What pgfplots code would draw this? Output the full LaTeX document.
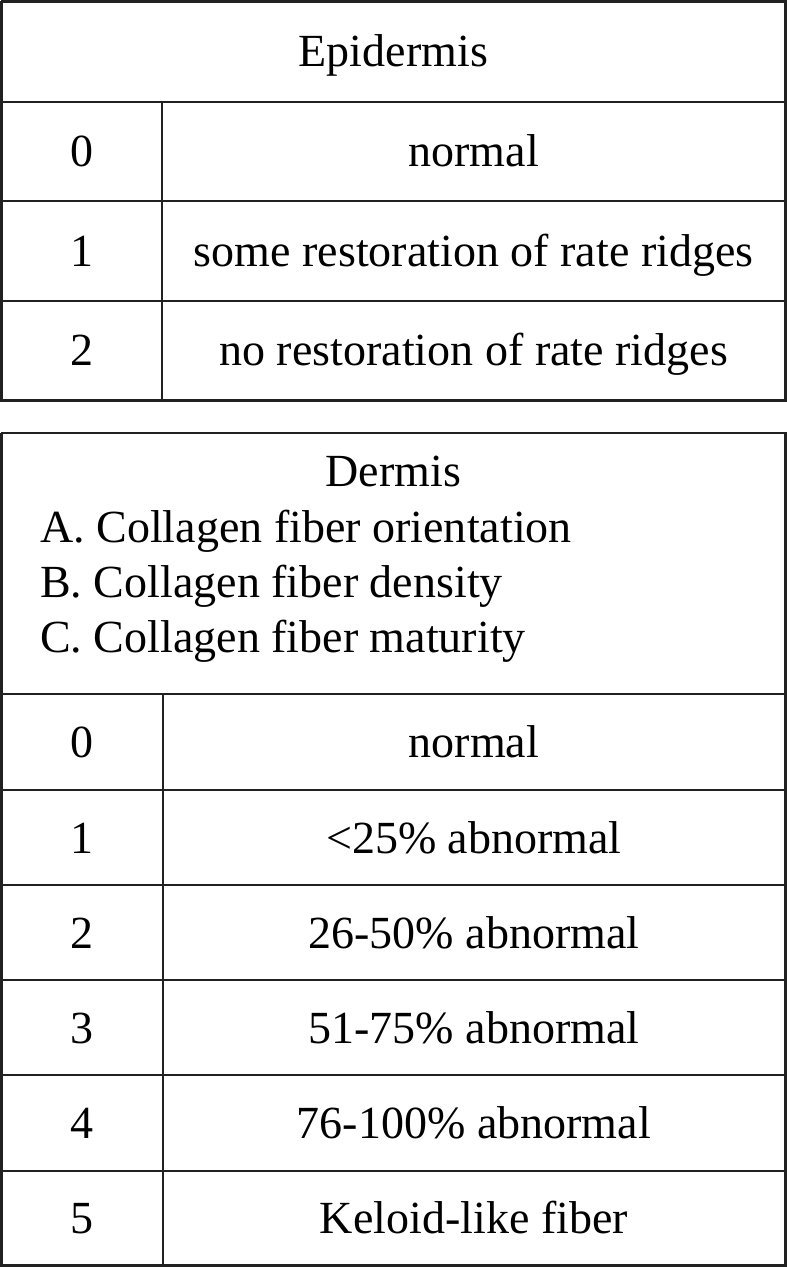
\documentclass[border=0pt]{standalone}
\usepackage{pgfplots}
\pgfplotsset{compat=1.18}
\usepackage{fontspec}
\setmainfont{Liberation Serif}
\definecolor{rule}{gray}{0.13}
\tikzset{cell/.style={font=\fontsize{23}{27.5}\selectfont, text=black, inner sep=0pt}}
\begin{document}
\begin{tikzpicture}
\begin{axis}[
  width=393.5pt, height=633.5pt, scale only axis,
  xmin=0, xmax=787, ymin=0, ymax=1267, y dir=reverse,
  axis lines=none, ticks=none, clip=false,
]
% top table outer box
\addplot[rule, line width=1.3pt, line join=miter] coordinates {(1.5,1.5) (785.5,1.5) (785.5,400.5) (1.5,400.5) (1.5,1.5)};
\addplot[rule, line width=1.0pt] coordinates {(1.5,102) (785.5,102)};
\addplot[rule, line width=1.0pt] coordinates {(1.5,201.5) (785.5,201.5)};
\addplot[rule, line width=1.0pt] coordinates {(1.5,301) (785.5,301)};
\addplot[rule, line width=1.0pt] coordinates {(162,102) (162,400.5)};
% bottom table outer box
\addplot[rule, line width=1.3pt, line join=miter] coordinates {(1.5,433) (785.5,433) (785.5,1265.5) (1.5,1265.5) (1.5,433)};
\addplot[rule, line width=1.0pt] coordinates {(1.5,694) (785.5,694)};
\addplot[rule, line width=1.0pt] coordinates {(1.5,790) (785.5,790)};
\addplot[rule, line width=1.0pt] coordinates {(1.5,885) (785.5,885)};
\addplot[rule, line width=1.0pt] coordinates {(1.5,980) (785.5,980)};
\addplot[rule, line width=1.0pt] coordinates {(1.5,1075) (785.5,1075)};
\addplot[rule, line width=1.0pt] coordinates {(1.5,1170.5) (785.5,1170.5)};
\addplot[rule, line width=1.0pt] coordinates {(163,694) (163,1265.5)};
% top table text
\node[cell, anchor=base] at (axis cs:393.5,67) {Epidermis};
\node[cell, anchor=base] at (axis cs:82,167) {0};
\node[cell, anchor=base] at (axis cs:82,266.5) {1};
\node[cell, anchor=base] at (axis cs:82,366) {2};
\node[cell, anchor=base] at (axis cs:473.75,167) {normal};
\node[cell, anchor=base] at (axis cs:473.75,266.5) {some restoration of rate ridges};
\node[cell, anchor=base] at (axis cs:473.75,366) {no restoration of rate ridges};
% bottom table header
\node[cell, anchor=base] at (axis cs:393.5,487) {Dermis};
\node[cell, anchor=base west] at (axis cs:40,543) {A. Collagen fiber orientation};
\node[cell, anchor=base west] at (axis cs:40,598) {B. Collagen fiber density};
\node[cell, anchor=base west] at (axis cs:40,652) {C. Collagen fiber maturity};
% bottom table rows
\node[cell, anchor=base] at (axis cs:82.5,757.5) {0};
\node[cell, anchor=base] at (axis cs:82.5,853) {1};
\node[cell, anchor=base] at (axis cs:82.5,948) {2};
\node[cell, anchor=base] at (axis cs:82.5,1043) {3};
\node[cell, anchor=base] at (axis cs:82.5,1138) {4};
\node[cell, anchor=base] at (axis cs:82.5,1233.5) {5};
\node[cell, anchor=base] at (axis cs:474,757.5) {normal};
\node[cell, anchor=base] at (axis cs:474,853) {<25\% abnormal};
\node[cell, anchor=base] at (axis cs:474,948) {26-50\% abnormal};
\node[cell, anchor=base] at (axis cs:474,1043) {51-75\% abnormal};
\node[cell, anchor=base] at (axis cs:474,1138) {76-100\% abnormal};
\node[cell, anchor=base] at (axis cs:474,1233.5) {Keloid-like fiber};
\end{axis}
\end{tikzpicture}
\end{document}
